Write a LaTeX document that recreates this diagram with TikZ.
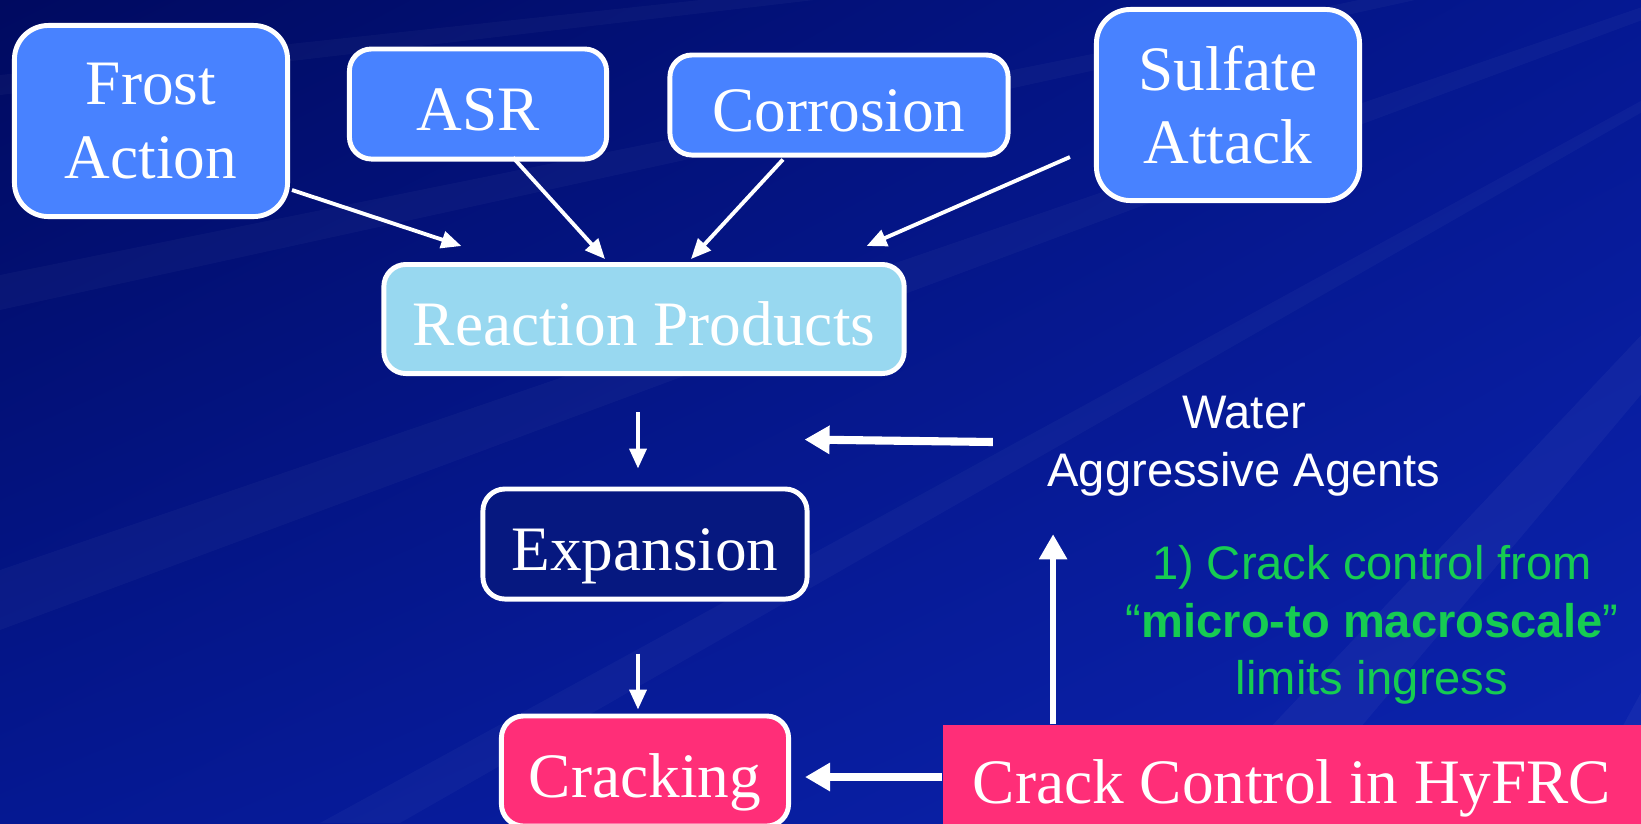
\documentclass[tikz,border=0pt]{standalone}
\usepackage{fontspec}
\setmainfont{Liberation Serif}
\newfontfamily\arialfont{Liberation Sans}
\usetikzlibrary{arrows.meta,calc,positioning,shadings}

\definecolor{bgdark}{RGB}{0,10,96}
\definecolor{bgmid}{RGB}{5,24,146}
\definecolor{bglight}{RGB}{12,36,176}
\definecolor{boxblue}{RGB}{72,130,255}
\definecolor{boxlight}{RGB}{152,216,240}
\definecolor{boxnavy}{RGB}{6,24,128}
\definecolor{boxpink}{RGB}{255,46,120}
\definecolor{txtgreen}{RGB}{22,204,82}

\begin{document}
\begin{tikzpicture}[x=0.01cm, y=-0.01cm,
  cause/.style={draw=white, line width=1.4pt, fill=boxblue, text=white,
    rounded corners=0.22cm, align=center, inner sep=0pt,
    font=\fontsize{18}{21}\selectfont},
  oneline/.style={text height=0.52cm, text depth=0pt},
  flow/.style={draw=white, line width=1.1pt,
    -{Triangle[length=0.2cm, width=0.17cm]}},
  bigflow/.style={draw=white, line width=2.3pt,
    -{Triangle[length=0.25cm, width=0.27cm]}},
  sanstext/.style={inner sep=0pt, align=center,
    font=\arialfont\fontsize{13.4}{16.4}\selectfont},
]

% ── Fondo ─────────────────────────────────────────────────────
\useasboundingbox (0,0) rectangle (1641,823);
\clip (0,0) rectangle (1641,823);
\shade[upper left=bgdark, upper right=bgmid, lower left=bgmid,
       lower right=bglight] (0,0) rectangle (1641,823);
% rayos claros
\fill[white, opacity=0.03] (2100,-150) -- (0,275) -- (0,310) -- cycle;
\fill[white, opacity=0.03] (2100,-150) -- (0,570) -- (0,630) -- cycle;
\fill[white, opacity=0.03] (2100,-150) -- (320,823) -- (400,823) -- cycle;
\fill[white, opacity=0.04] (2100,-150) -- (1180,823) -- (1280,823) -- cycle;
\fill[white, opacity=0.03] (2100,-150) -- (0,75) -- (0,95) -- cycle;
\fill[white, opacity=0.04] (2100,-150) -- (1570,823) -- (1600,823) -- cycle;

% ── Causas ────────────────────────────────────────────────────
\node[cause, minimum width=2.73cm, minimum height=1.91cm,
      rounded corners=0.34cm] (frost) at (151,121) {Frost\\Action};
\node[cause, oneline, minimum width=2.57cm, minimum height=1.10cm]
      (asr) at (478,104) {ASR};
\node[cause, oneline, minimum width=3.38cm, minimum height=1.00cm]
      (corrosion) at (839,105) {Corrosion};
\node[cause, minimum width=2.63cm, minimum height=1.91cm,
      rounded corners=0.34cm] (sulfate) at (1228,105) {Sulfate\\Attack};

% ── Cadena central ────────────────────────────────────────────
\node[cause, oneline, fill=boxlight, minimum width=5.20cm,
      minimum height=1.09cm] (products) at (644,319) {Reaction Products};
\node[cause, oneline, fill=boxnavy, minimum width=3.24cm,
      minimum height=1.10cm] (expansion) at (645,544) {Expansion};
\node[cause, oneline, fill=boxpink, minimum width=2.87cm,
      minimum height=1.10cm] (cracking) at (645,771) {Cracking};

% ── Control de fisuras ────────────────────────────────────────
\node[oneline, fill=boxpink, minimum width=6.98cm, minimum height=1.04cm,
      inner sep=0pt, text=white, font=\fontsize{18}{21}\selectfont]
      (hyfrc) at (1292,777) {Crack Control in HyFRC};
\node[sanstext, text=white] (water) at (1244,446)
      {Water\\Aggressive Agents};
\node[sanstext, text=txtgreen] (ingress) at (1372,625)
      {1) Crack control from\\“\textbf{micro-to macroscale}”\\limits ingress};

% ── Flechas ───────────────────────────────────────────────────
\draw[flow] ($(frost.south east)+(2,-29)$)
      -- ($(products.north west)+(80,-16)$);
\draw[flow] ($(asr.south)+(35,-4)$) -- ($(products.north)+(-39,-3)$);
\draw[flow] ($(corrosion.south)+(-56,2)$) -- ($(products.north)+(47,-3)$);
\draw[flow] ($(sulfate.south west)+(-24,-46)$)
      -- ($(products.north east)+(-40,-16)$);
\draw[flow] ($(products.south)+(-6,36)$) -- ($(expansion.north)+(-7,-18)$);
\draw[flow] ($(expansion.south)+(-7,52)$) -- ($(cracking.north)+(-7,-4)$);
\draw[bigflow] ($(water.west)+(-54,-4)$)
      -- ($(expansion.north east)+(-5,-47)$);
\draw[bigflow, line width=1.6pt] ($(hyfrc.north west)+(111,0)$)
      -- ($(hyfrc.north west)+(111,-190)$);
\draw[bigflow] (hyfrc.west) -- ($(cracking.east)+(14,6)$);

\end{tikzpicture}
\end{document}
